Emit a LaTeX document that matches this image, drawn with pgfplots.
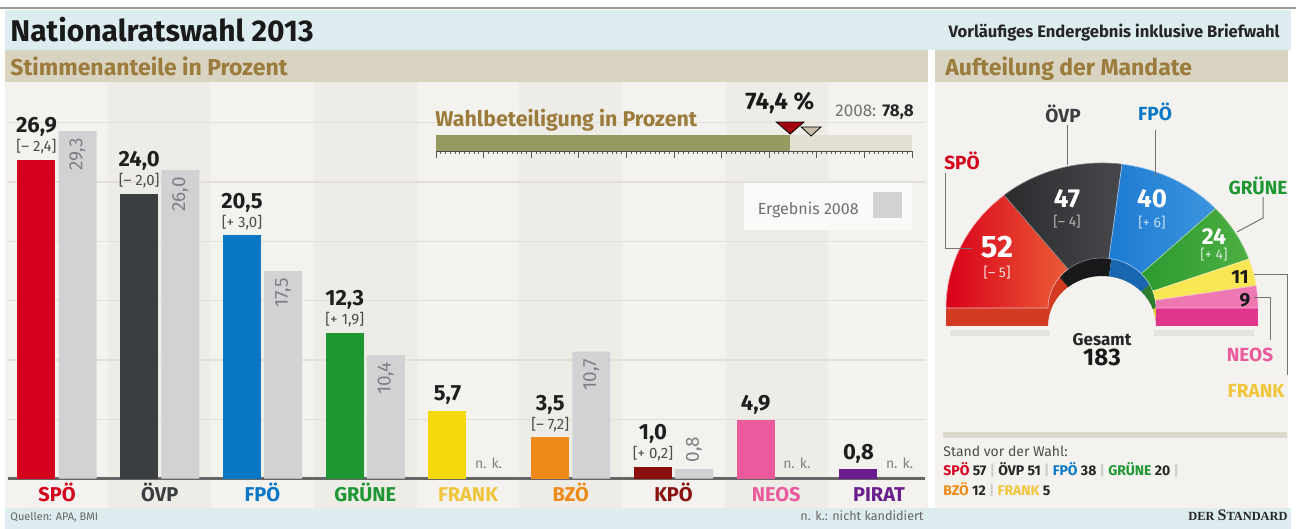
\documentclass[border=0pt]{standalone}
\usepackage{fontspec}
\setmainfont{Fira Sans}
\newfontfamily\stdserif{Liberation Serif}
\usepackage{pgfplots}
\pgfplotsset{compat=1.18}
\newcommand{\fs}[1]{\fontsize{#1}{#1}\selectfont}
\definecolor{titlebg}{HTML}{DDECEF}
\definecolor{headbg}{HTML}{D9D4C2}
\definecolor{bodybg}{HTML}{F3F2EE}
\definecolor{bandbg}{HTML}{EDECE6}
\definecolor{brownt}{HTML}{9C7C3C}
\definecolor{gridc}{HTML}{E2E0D6}
\definecolor{cSPO}{HTML}{D5001C}
\definecolor{cOVP}{HTML}{3B3E41}
\definecolor{cFPO}{HTML}{0A77C6}
\definecolor{cGRU}{HTML}{1E9632}
\definecolor{cFRA}{HTML}{F3D90E}
\definecolor{cFRAl}{HTML}{F0C53C}
\definecolor{cBZO}{HTML}{EE8A17}
\definecolor{cKPO}{HTML}{8A0F0F}
\definecolor{cNEO}{HTML}{EA5A9C}
\definecolor{cPIR}{HTML}{6A1E8E}
\definecolor{cgray}{HTML}{D1D2D4}
\definecolor{glabc}{HTML}{7E8083}
\definecolor{olivebar}{HTML}{949A60}
\definecolor{turnbg}{HTML}{E3E0D3}
\definecolor{tri2008}{HTML}{C9BFA6}
\definecolor{trired}{HTML}{A3000F}
\definecolor{ltext}{HTML}{6E6E6E}
\definecolor{sepc}{HTML}{DCD9CC}
% donut colours
\definecolor{dSPOa}{HTML}{D9001B}\definecolor{dSPOb}{HTML}{EA5D36}\definecolor{dSPOs}{HTML}{D23A22}
\definecolor{dOVPa}{HTML}{2B2C2E}\definecolor{dOVPb}{HTML}{46484B}\definecolor{dOVPs}{HTML}{18191A}
\definecolor{dFPOa}{HTML}{1C7BD2}\definecolor{dFPOb}{HTML}{3D94DE}\definecolor{dFPOs}{HTML}{1966AE}
\definecolor{dGRUa}{HTML}{2C9A30}\definecolor{dGRUb}{HTML}{4DAF42}\definecolor{dGRUs}{HTML}{2A7E2E}
\definecolor{dFRAa}{HTML}{F8E654}\definecolor{dFRAs}{HTML}{DCC838}
\definecolor{dNEOa}{HTML}{EE78B2}\definecolor{dNEOs}{HTML}{E0358A}
\newcommand{\dwedge}[4]{\path[#4] (axis cs:{156*cos(#1)},{145*sin(#1)+#3}) arc[start angle=#1, end angle=#2, x radius=156, y radius=145] -- (axis cs:{54*cos(#2)},{50*sin(#2)+#3}) arc[start angle=#2, end angle=#1, x radius=54, y radius=50] -- cycle;}
% seats 2013
\def\sSPO{52}\def\sOVP{47}\def\sFPO{40}\def\sGRU{24}\def\sFRA{11}\def\sNEO{9}\def\sTOT{183}
\begin{document}
\begin{tikzpicture}[x=0.5pt,y=0.5pt,
  vlab/.style={anchor=base, font=\fs{11}\bfseries, text=black!88},
  clab/.style={anchor=base, yshift=4pt, font=\fs{7.5}, text=black!70},
  glab/.style={rotate=90, font=\fs{9.5}, text=glabc},
  nk/.style={anchor=base, yshift=4.8pt, font=\fs{7}, text=glabc}]
\useasboundingbox (0,0) rectangle (1296,529);
\pgfmathsetmacro{\aA}{180-180*\sSPO/\sTOT}
\pgfmathsetmacro{\aB}{\aA-180*\sOVP/\sTOT}
\pgfmathsetmacro{\aC}{\aB-180*\sFPO/\sTOT}
\pgfmathsetmacro{\aD}{\aC-180*\sGRU/\sTOT}
\pgfmathsetmacro{\aE}{\aD-180*\sFRA/\sTOT}
% ---------- background ----------
\fill[white] (0,0) rectangle (1296,529);
\draw[black!40, line width=1pt] (0,521) -- (1296,521);
\fill[titlebg] (5,479) rectangle (1291,519);
\fill[headbg] (5,447) rectangle (928,479);
\fill[headbg] (935,447) rectangle (1288,479);
\fill[bodybg] (5,21) rectangle (928,447);
\fill[bodybg] (935,21) rectangle (1288,447);
\foreach \i in {1,3,5,7} {\fill[bandbg] ({5.5+102.75*\i},21) rectangle ({108.25+102.75*\i},447);}
\fill[titlebg] (5,0) rectangle (1291,21);
% ---------- titles ----------
\node[anchor=base west, inner sep=0pt, font=\fs{15}\bfseries, text=black!90] at (10,487) {Nationalratswahl 2013};
\node[anchor=base east, inner sep=0pt, font=\fs{8.3}\bfseries, text=black!85] at (1280,491) {Vorläufiges Endergebnis inklusive Briefwahl};
\node[anchor=base west, inner sep=0pt, font=\fs{11.5}\bfseries, text=brownt] at (10,453) {Stimmenanteile in Prozent};
\node[anchor=base west, inner sep=0pt, font=\fs{11.5}\bfseries, text=brownt] at (945,453) {Aufteilung der Mandate};
% ---------- main bar chart ----------
\begin{axis}[
  at={(4pt,25.2pt)}, anchor=south west,
  x=51.375pt, y=5.93pt,
  xmin=-0.477, xmax=8.448, ymin=0, ymax=31,
  clip=false,
  axis line style={draw=none},
  ytick={5,10,...,30}, yticklabels={},
  ymajorgrids, major grid style={draw=gridc, line width=0.6pt},
  extra y ticks={0}, extra y tick labels={},
  extra y tick style={grid=major, major grid style={draw=black!60, line width=1.2pt}},
  major tick length=0pt,
  xtick={0,...,8},
  xticklabels={\textcolor{cSPO}{SPÖ},\textcolor{cOVP}{ÖVP},\textcolor{cFPO}{FPÖ},\textcolor{cGRU}{GRÜNE},\textcolor{cFRAl}{FRANK},\textcolor{cBZO}{BZÖ},\textcolor{cKPO}{KPÖ},\textcolor{cNEO}{NEOS},\textcolor{cPIR}{PIRAT}},
  xticklabel style={anchor=base, yshift=-11.7pt, font=\fs{10}\bfseries},
  legend style={at={(0.9858,0.804)}, anchor=north east, draw=none, fill=white!60!bodybg,
    font=\fs{8}, text=ltext, inner xsep=5pt, inner ysep=4.5pt,
    /tikz/every odd column/.append style={column sep=5pt}},
  legend plot pos=right,
  legend image code/.code={\fill[cgray] (0pt,-4.5pt) rectangle (14.5pt,8.5pt);},
  colbar/.style={ybar, bar shift=0pt, bar width=0.37, draw=none, forget plot},
]
% 2013 results
\addplot[colbar, fill=cSPO] coordinates {(-0.2,26.9)};
\addplot[colbar, fill=cOVP] coordinates {(0.8,24.0)};
\addplot[colbar, fill=cFPO] coordinates {(1.8,20.5)};
\addplot[colbar, fill=cGRU] coordinates {(2.8,12.3)};
\addplot[colbar, fill=cFRA] coordinates {(3.8,5.7)};
\addplot[colbar, fill=cBZO] coordinates {(4.8,3.5)};
\addplot[colbar, fill=cKPO] coordinates {(5.8,1.0)};
\addplot[colbar, fill=cNEO] coordinates {(6.8,4.9)};
\addplot[colbar, fill=cPIR] coordinates {(7.8,0.8)};
% 2008 results
\addplot[ybar, bar shift=0pt, bar width=0.37, draw=none, fill=cgray]
  coordinates {(0.2,29.3) (1.2,26.0) (2.2,17.5) (3.2,10.4) (5.2,10.7) (6.2,0.8)};
\addlegendentry{Ergebnis 2008}
% value labels
\node[vlab, yshift=13.5pt] at (axis cs:-0.2,26.9) {26,9};
\node[clab] at (axis cs:-0.2,26.9) {[– 2,4]};
\node[vlab, yshift=13.5pt] at (axis cs:0.8,24.0) {24,0};
\node[clab] at (axis cs:0.8,24.0) {[– 2,0]};
\node[vlab, yshift=13.5pt] at (axis cs:1.8,20.5) {20,5};
\node[clab] at (axis cs:1.8,20.5) {[+ 3,0]};
\node[vlab, yshift=13.5pt] at (axis cs:2.8,12.3) {12,3};
\node[clab] at (axis cs:2.8,12.3) {[+ 1,9]};
\node[vlab, yshift=5pt] at (axis cs:3.8,5.7) {5,7};
\node[vlab, yshift=13.5pt] at (axis cs:4.8,3.5) {3,5};
\node[clab] at (axis cs:4.8,3.5) {[– 7,2]};
\node[vlab, yshift=13.5pt] at (axis cs:5.8,1.0) {1,0};
\node[clab] at (axis cs:5.8,1.0) {[+ 0,2]};
\node[vlab, yshift=5pt] at (axis cs:6.8,4.9) {4,9};
\node[vlab, yshift=5pt] at (axis cs:7.8,0.8) {0,8};
% 2008 labels
\node[glab, anchor=east] at (axis cs:0.2,29.3) {29,3};
\node[glab, anchor=east] at (axis cs:1.2,26.0) {26,0};
\node[glab, anchor=east] at (axis cs:2.2,17.5) {17,5};
\node[glab, anchor=east] at (axis cs:3.2,10.4) {10,4};
\node[glab, anchor=east] at (axis cs:5.2,10.7) {10,7};
\node[glab, anchor=west] at (axis cs:6.2,0.8) {0,8};
\node[nk] at (axis cs:4.2,0) {n. k.};
\node[nk] at (axis cs:7.2,0) {n. k.};
\node[nk] at (axis cs:8.2,0) {n. k.};
\draw[black!40, line width=1pt] (rel axis cs:0.8037,0.679) -- (rel axis cs:0.9858,0.679);
\end{axis}
% ---------- turnout ----------
\node[anchor=base west, inner sep=0pt, font=\fs{10.7}\bfseries, text=brownt] at (435,402) {Wahlbeteiligung in Prozent};
\node[anchor=base west, inner sep=0pt, font=\fs{12}\bfseries, text=black!90] at (745,419) {74,4 \%};
\node[anchor=base west, inner sep=0pt, font=\fs{8.5}, text=black!55] at (835,412) {2008: \textcolor{black!85}{\bfseries 78,8}};
\begin{axis}[
  at={(218pt,189pt)}, anchor=south west,
  x=2.38pt, y=8pt, xmin=0, xmax=100, ymin=0, ymax=1,
  clip=false,
  axis x line*=bottom, axis y line=none,
  xtick={0,10,...,100}, xticklabels={}, xtick pos=left,
  minor x tick num=9, tick align=outside,
  major tick length=3.5pt, minor tick length=1.3pt,
  tick style={draw=black!65, line width=0.4pt},
  axis line style={draw=black!70, line width=0.8pt},
  ytick=\empty,
]
\addplot[xbar, bar shift=0pt, bar width=1, fill=turnbg, draw=none] coordinates {(100,0.5)};
\addplot[xbar, bar shift=0pt, bar width=1, fill=olivebar, draw=none] coordinates {(74.4,0.5)};
\addplot[only marks, mark=triangle*, mark size=3pt, mark options={fill=tri2008, draw=none, rotate=180, xscale=1.9}] coordinates {(78.8,1.31)};
\addplot[only marks, mark=triangle*, mark size=4pt, mark options={fill=trired, draw=none, rotate=180, xscale=2}] coordinates {(74.4,1.56)};
\end{axis}
% ---------- seat donut ----------
\begin{axis}[
  at={(461pt,90.5pt)}, anchor=south west,
  x=0.5pt, y=0.5pt, xmin=-180, xmax=180, ymin=-40, ymax=180,
  hide axis, clip=false,
]
% shadow
\fill[black, opacity=0.06] (axis cs:-152,-22) rectangle (axis cs:-52,-28);
\fill[black, opacity=0.06] (axis cs:52,-22) rectangle (axis cs:152,-28);
% inner wall (extrusion seen through the hole)
\dwedge{180}{\aA}{-18}{fill=dSPOs}
\dwedge{\aA}{\aB}{-18}{fill=dOVPs}
\dwedge{\aB}{\aC}{-18}{fill=dFPOs}
\dwedge{\aC}{\aD}{-18}{fill=dGRUs}
\dwedge{\aD}{\aE}{-18}{fill=dFRAs}
\dwedge{\aE}{0}{-18}{fill=dNEOs}
% front faces of the two ends
\fill[dSPOs] (axis cs:-156,-18) rectangle (axis cs:-54,0);
\fill[dNEOs] (axis cs:54,-18) rectangle (axis cs:156,0);
% top faces
\dwedge{180}{\aA}{0}{left color=dSPOa, right color=dSPOb, draw=white!70!dSPOa, line width=0.3pt}
\dwedge{\aA}{\aB}{0}{left color=dOVPa, right color=dOVPb, draw=white!40!dOVPa, line width=0.3pt}
\dwedge{\aB}{\aC}{0}{left color=dFPOa, right color=dFPOb, draw=white!60!dFPOa, line width=0.3pt}
\dwedge{\aC}{\aD}{0}{left color=dGRUa, right color=dGRUb, draw=white!60!dGRUa, line width=0.3pt}
\dwedge{\aD}{\aE}{0}{fill=dFRAa, draw=white!50!dFRAa, line width=0.3pt}
\dwedge{\aE}{0}{0}{fill=dNEOa, draw=white!50!dNEOa, line width=0.3pt}
% numbers
\node[font=\fs{15.5}\bfseries, text=white] at (axis cs:-105,61) {52};
\node[font=\fs{7}, text=white!80!dSPOb] at (axis cs:-105,35) {[– 5]};
\node[font=\fs{13}\bfseries, text=white] at (axis cs:-35,109) {47};
\node[font=\fs{7}, text=white!70!black] at (axis cs:-35,86) {[– 4]};
\node[font=\fs{13}\bfseries, text=white] at (axis cs:50,109) {40};
\node[font=\fs{7}, text=white!75!dFPOa] at (axis cs:50,85) {[+ 6]};
\node[font=\fs{11.5}\bfseries, text=white] at (axis cs:112,71) {24};
\node[font=\fs{7}, text=white!80!dGRUa] at (axis cs:112,53) {[+ 4]};
\node[font=\fs{9.5}\bfseries, text=black!90] at (axis cs:138,31) {11};
\node[font=\fs{9.5}\bfseries, text=black!90] at (axis cs:143,8) {9};
% party names and leaders
\draw[black!55, line width=0.5pt] (axis cs:-157,135) -- (axis cs:-157,59) -- (axis cs:-130,59);
\draw[black!55, line width=0.5pt] (axis cs:-35,183) -- (axis cs:-35,143);
\draw[black!55, line width=0.5pt] (axis cs:53,178) -- (axis cs:53,131);
\draw[black!55, line width=0.5pt] (axis cs:161,111) -- (axis cs:161,90) -- (axis cs:135,76);
\draw[black!55, line width=0.5pt] (axis cs:152,10) -- (axis cs:168,10) -- (axis cs:168,-32);
\draw[black!55, line width=0.5pt] (axis cs:152,33) -- (axis cs:185,33) -- (axis cs:185,-67);
\node[font=\fs{9.5}\bfseries, text=cSPO] at (axis cs:-140,147) {SPÖ};
\node[font=\fs{9.5}\bfseries, text=cOVP] at (axis cs:-39,194) {ÖVP};
\node[font=\fs{9.5}\bfseries, text=cFPO] at (axis cs:53,196) {FPÖ};
\node[font=\fs{9.5}\bfseries, text=cGRU] at (axis cs:156,122) {GRÜNE};
\node[font=\fs{9.5}\bfseries, text=cNEO] at (axis cs:148,-47) {NEOS};
\node[font=\fs{9.5}\bfseries, text=cFRAl] at (axis cs:154,-83) {FRANK};
\node[font=\fs{8.5}\bfseries, text=black!85] at (axis cs:0,-32) {Gesamt};
\node[font=\fs{12}\bfseries, text=black!90] at (axis cs:0,-49) {183};
\end{axis}
% ---------- previous seats ----------
\fill[sepc] (943,91) rectangle (1287,97);
\node[anchor=base west, inner sep=0pt, font=\fs{7}, text=black!70] at (943,72) {Stand vor der Wahl:};
\node[anchor=base west, inner sep=0pt, font=\fs{7}\bfseries, text=black!85] at (943,53)
  {\textcolor{cSPO}{SPÖ} 57 \textcolor{black!20}{|} ÖVP 51 \textcolor{black!20}{|} \textcolor{cFPO}{FPÖ} 38 \textcolor{black!20}{|} \textcolor{cGRU}{GRÜNE} 20 \textcolor{black!20}{|}};
\node[anchor=base west, inner sep=0pt, font=\fs{7}\bfseries, text=black!85] at (943,33)
  {\textcolor{cBZO}{BZÖ} 12 \textcolor{black!20}{|} \textcolor{cFRAl}{FRANK} 5};
% ---------- footer ----------
\node[anchor=base west, inner sep=0pt, font=\fs{5.5}, text=black!60] at (10,8) {Quellen: APA, BMI};
\node[anchor=base, inner sep=0pt, font=\fs{6.3}, text=black!60] at (862,8) {n. k.: nicht kandidiert};
\node[anchor=base east, inner sep=0pt, text=black!85] at (1288,8) {\stdserif\bfseries\fs{6.2}DER \fs{8}S\fs{6.2}TANDARD};
\end{tikzpicture}
\end{document}
